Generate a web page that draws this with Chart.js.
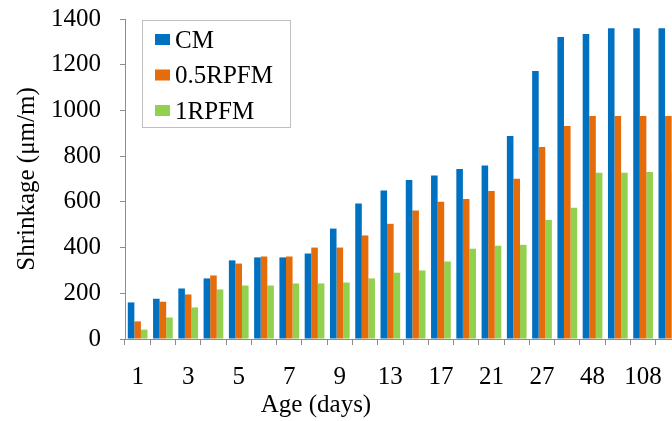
<!DOCTYPE html>
<html>
<head>
<meta charset="utf-8">
<script src="https://cdn.jsdelivr.net/npm/chart.js@4.4.1/dist/chart.umd.min.js"></script>
<style>
  html, body { margin: 0; padding: 0; background: #fff; overflow: hidden; }
  #wrap { position: relative; width: 700px; height: 421px; }
</style>
</head>
<body>
<div id="wrap"><canvas id="chart" width="700" height="421"></canvas></div>
<script>
// ages (days); only every other label is printed on the axis
const ages = ['1', '2', '3', '4', '5', '6', '7', '8', '9', '11', '13', '15', '17', '19', '21', '24', '27', '34', '48', '78', '108', '150'];

// shrinkage in µm/m
const cm = [160, 176, 221, 265, 344, 357, 357, 374, 483, 593, 650, 696, 715, 744, 759, 888, 1173, 1321, 1334, 1360, 1360, 1360];
const rpfm05 = [77, 163, 195, 278, 330, 361, 361, 400, 400, 453, 504, 562, 601, 613, 648, 701, 840, 932, 976, 976, 976, 976];
const rpfm1 = [41, 94, 138, 217, 234, 234, 243, 243, 247, 265, 290, 300, 339, 395, 408, 412, 521, 574, 727, 727, 731, 731];

const yMin = 0;
const yMax = 1400;
const yStep = 200;

const serif = 'Liberation Serif';
const axisGrey = '#8c8c8c';

// legend box sitting inside the plot, top left
const insideLegend = {
	id: 'insideLegend',
	afterDraw( chart ) {
		const { ctx, chartArea } = chart;
		const x = chartArea.left + 17;
		const y = chartArea.top + 1;
		const w = 148;
		const h = 107;

		ctx.save();
		ctx.fillStyle = '#fff';
		ctx.fillRect( x, y, w, h );
		ctx.strokeStyle = '#bfbfbf';
		ctx.lineWidth = 1;
		ctx.strokeRect( x + 0.5, y + 0.5, w, h );

		ctx.font = '25px "' + serif + '"';
		ctx.textBaseline = 'middle';
		chart.data.datasets.forEach( ( ds, i ) => {
			const cy = y + 20 + i * 35.5;
			ctx.fillStyle = ds.backgroundColor;
			ctx.fillRect( x + 13, cy - 6, 15, 11 );
			ctx.fillStyle = '#000';
			ctx.fillText( ds.label, x + 33, cy + 1 );
		} );
		ctx.restore();
	},
};

// x axis title is placed off-centre in the original
const xTitle = {
	id: 'xTitle',
	afterDraw( chart ) {
		const { ctx, chartArea } = chart;
		ctx.save();
		ctx.font = '25px "' + serif + '"';
		ctx.fillStyle = '#000';
		ctx.textAlign = 'center';
		ctx.textBaseline = 'middle';
		ctx.fillText( 'Age (days)', chartArea.left + 191, 405 );
		ctx.restore();
	},
};

new Chart( document.getElementById( 'chart' ), {
	type: 'bar',
	data: {
		labels: ages,
		datasets: [
			{ label: 'CM', data: cm, backgroundColor: '#0070c0' },
			{ label: '0.5RPFM', data: rpfm05, backgroundColor: '#e46c0a' },
			{ label: '1RPFM', data: rpfm1, backgroundColor: '#92d050' },
		],
	},
	options: {
		responsive: false,
		animation: false,
		devicePixelRatio: 1,
		categoryPercentage: 0.78,
		barPercentage: 1,
		layout: {
			padding: { top: 19, right: 19, bottom: 0, left: 0 },
		},
		plugins: {
			legend: { display: false },
			tooltip: { enabled: false },
		},
		scales: {
			x: {
				grid: {
					drawOnChartArea: false,
					drawTicks: true,
					tickLength: 6,
					color: axisGrey,
					offset: true,
				},
				border: { color: axisGrey },
				ticks: {
					autoSkip: false,
					maxRotation: 0,
					padding: 17,
					color: '#000',
					font: { family: serif, size: 25 },
					callback: ( value, index ) => ( index % 2 === 0 ? ages[ index ] : '' ),
				},
				afterFit( scale ) {
					scale.height = 82;
				},
			},
			y: {
				min: yMin,
				max: yMax,
				grid: {
					drawOnChartArea: false,
					drawTicks: true,
					tickLength: 5,
					color: axisGrey,
				},
				border: { color: axisGrey },
				ticks: {
					stepSize: yStep,
					padding: 19,
					color: '#000',
					font: { family: serif, size: 25 },
					callback: ( value ) => String( value ),
				},
				title: {
					display: true,
					text: 'Shrinkage (μm/m)',
					color: '#000',
					font: { family: serif, size: 25 },
					padding: { top: 12, bottom: 0 },
				},
				afterFit( scale ) {
					scale.width = 125;
					// tick padding would otherwise push the plot top down
					scale.paddingTop = 0;
					scale.paddingBottom = 0;
				},
			},
		},
	},
	plugins: [ insideLegend, xTitle ],
} );
</script>
</body>
</html>
